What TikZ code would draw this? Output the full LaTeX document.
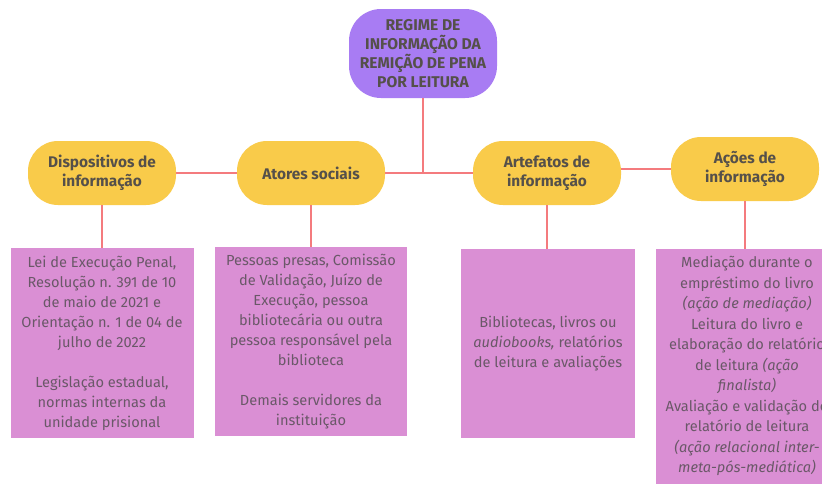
\documentclass[tikz,border=0pt]{standalone}
\usepackage{fontspec}
\setmainfont{Fira Sans}
\definecolor{topfill}{HTML}{A87CF3}
\definecolor{catfill}{HTML}{F9CB4A}
\definecolor{boxfill}{HTML}{DA8FD4}
\definecolor{linec}{HTML}{F47B7E}
\definecolor{titletxt}{HTML}{55504A}
\definecolor{bodytxt}{HTML}{6A5868}
\begin{document}
\begin{tikzpicture}[x=1pt,y=-1pt,
  topnode/.style={fill=topfill, rounded corners=32pt, minimum width=148pt, minimum height=89pt,
    align=center, text=titletxt, font=\fontsize{15.6}{19}\selectfont\bfseries, inner sep=0pt},
  catnode/.style={fill=catfill, rounded corners=30pt, minimum width=148pt, minimum height=64pt,
    align=center, text=titletxt, font=\fontsize{15.4}{19.5}\selectfont\bfseries, inner sep=0pt},
  infobox/.style={fill=boxfill, inner sep=0pt, anchor=north west},
  infotext/.style={align=center, text=bodytxt, font=\fontsize{14.6}{20}\selectfont, inner sep=0pt},
  link/.style={draw=linec, line width=2pt}
]
\useasboundingbox (0,0) rectangle (822,483);
\fill[white] (0,0) rectangle (822,483);
\begin{scope}
\clip (0,0) rectangle (822,483);

\node[topnode] (top) at (423,53.5) {REGIME DE\\INFORMAÇÃO DA\\REMIÇÃO DE PENA\\POR LEITURA};

\node[catnode] (disp) at (102,173) {Dispositivos de\\informação};
\node[catnode] (ator) at (311,173) {Atores sociais};
\node[catnode] (arte) at (547,173) {Artefatos de\\informação};
\node[catnode] (acao) at (745,169) {Ações de\\informação};

\node[infobox, minimum width=183pt, minimum height=190pt] (b1) at (11,248) {};
\node[infobox, minimum width=192pt, minimum height=189pt] (b2) at (215,247) {};
\node[infobox, minimum width=174pt, minimum height=189pt] (b3) at (461,249) {};
\node[infobox, minimum width=182pt, minimum height=250pt] (b4) at (656,249) {};

\node[infotext, anchor=north] (t1) at (102,256) {Lei de Execução Penal,\\Resolução n. 391 de 10\\de maio de 2021 e\\Orientação n. 1 de 04 de\\julho de 2022\\[20pt]Legislação estadual,\\normas internas da\\unidade prisional};
\node[infotext, anchor=north] (t2) at (311,254) {Pessoas presas, Comissão\\de Validação, Juízo de\\Execução, pessoa\\bibliotecária ou outra\\pessoa responsável pela\\biblioteca\\[20pt]Demais servidores da\\instituição};
\node[infotext, anchor=center] (t3) at (548,344) {Bibliotecas, livros ou\\\textit{audiobooks,} relatórios\\de leitura e avaliações};
\node[infotext, anchor=north, font=\fontsize{14.6}{20.5}\selectfont] (t4) at (747,256) {Mediação durante o\\empréstimo do livro\\\textit{(ação de mediação)}\\Leitura do livro e\\elaboração do relatório\\de leitura \textit{(ação}\\\textit{finalista)}\\Avaliação e validação do\\relatório de leitura\\\textit{(ação relacional inter-}\\\textit{meta-pós-mediática)}};

\coordinate (hub) at (top.south |- ator.east);
\draw[link] (top.south) -- (hub);
\draw[link] (disp.east) -- (ator.west);
\draw[link] (ator.east) -- (arte.west);
\draw[link] (acao.west) -- (acao.west -| arte.east);
\draw[link] (disp.south) -- (b1.north -| disp.south);
\draw[link] (ator.south) -- (b2.north -| ator.south);
\draw[link] (arte.south) -- (b3.north -| arte.south);
\draw[link] (acao.south) -- (b4.north -| acao.south);
\end{scope}
\end{tikzpicture}
\end{document}
